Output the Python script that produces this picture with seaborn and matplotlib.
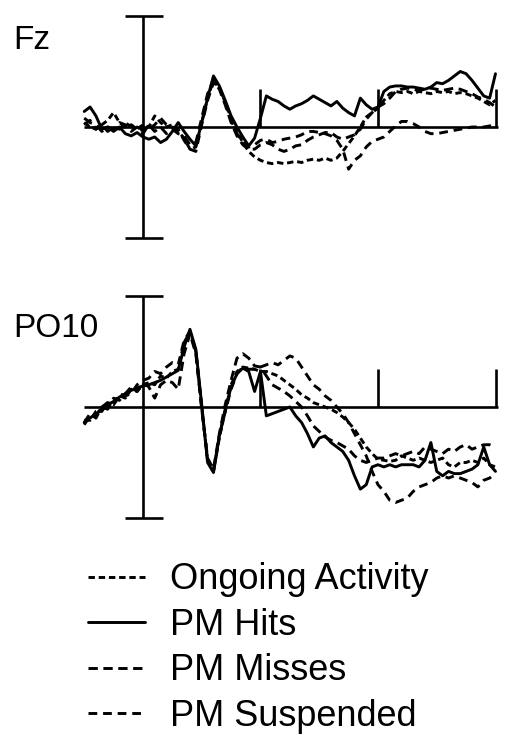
import matplotlib
matplotlib.use("Agg")
import matplotlib.pyplot as plt
import numpy as np
import pandas as pd
import seaborn as sns
from matplotlib.lines import Line2D

# ---------------- data ----------------
time_ms = [-200, -180, -160, -140, -120, -100, -80, -60, -40, -20,
           0, 20, 40, 60, 80, 100, 120, 140, 160, 180,
           200, 220, 240, 260, 280, 300, 320, 340, 360, 380,
           400, 420, 440, 460, 480, 500, 520, 540, 560, 580,
           600, 620, 640, 660, 680, 700, 720, 740, 760, 780,
           800, 820, 840, 860, 880, 900, 920, 940, 960, 980,
           1000, 1020, 1040, 1060, 1080, 1100, 1120, 1140, 1160, 1180, 1200]

conditions = ["Ongoing Activity", "PM Hits", "PM Misses", "PM Suspended"]
channels = ["Fz", "PO10"]
time_ticks = [400, 800, 1200]
amp_limit = 5.0

fz_ongoing = [0.2, 0.0, -0.1, 0.1, 0.3, 0.65, 0.2, 0.0, 0.1, -0.1,
              0.1, 0.0, 0.5, 0.2, 0.0, 0.1, -0.2, -0.5, -1.0, -0.9,
              0.2, 1.3, 2.1, 1.8, 1.1, 0.4, -0.2, -0.7, -1.1, -1.35,
              -1.5, -1.6, -1.65, -1.6, -1.65, -1.6, -1.55, -1.6, -1.5, -1.45,
              -1.5, -1.4, -1.5, -1.4, -1.1, -0.75, -0.4, 0.0, 0.45, 0.65,
              0.85, 1.2, 1.5, 1.6, 1.55, 1.6, 1.5, 1.6, 1.55, 1.5,
              1.6, 1.55, 1.6, 1.5, 1.55, 1.5, 1.4, 1.3, 1.15, 1.0, 1.2]
fz_hits = [0.7, 0.9, 0.5, -0.1, 0.0, -0.2, 0.0, -0.3, -0.4, -0.25,
           -0.45, -0.55, -0.45, -0.7, -0.55, -0.2, 0.2, -0.2, -0.55, -0.85,
           0.2, 1.3, 2.3, 1.85, 1.2, 0.5, 0.0, -0.45, -0.85, -0.5,
           0.4, 1.4, 1.25, 1.15, 0.95, 0.8, 0.95, 1.05, 1.2, 1.4,
           1.25, 1.1, 0.95, 1.15, 0.85, 0.65, 0.5, 1.3, 1.0, 0.8,
           0.9, 1.6, 1.8, 1.85, 1.85, 1.8, 1.8, 1.75, 1.7, 1.8,
           2.0, 1.95, 2.1, 2.3, 2.5, 2.4, 2.1, 1.75, 1.4, 1.3, 2.4]
fz_misses = [0.4, 0.2, 0.1, -0.2, 0.0, -0.1, 0.2, 0.1, -0.2, 0.0,
             -0.3, 0.1, -0.2, 0.0, -0.3, -0.1, -0.3, -0.4, -0.8, -0.7,
             0.4, 1.5, 2.1, 1.7, 1.0, 0.2, -0.4, -0.8, -1.0, -1.0,
             -0.8, -0.7, -0.8, -1.0, -1.1, -1.0, -0.85, -0.8, -0.6, -0.45,
             -0.35, -0.25, -0.25, -0.45, -0.55, -0.45, -0.35, -0.1, 0.35, 0.65,
             0.9, 1.05, 1.3, 1.6, 1.7, 1.75, 1.7, 1.65, 1.7, 1.75,
             1.7, 1.65, 1.7, 1.75, 1.7, 1.6, 1.5, 1.35, 1.25, 1.1, 0.9]
fz_suspended = [0.1, 0.3, -0.1, 0.1, -0.2, 0.0, -0.1, 0.2, 0.0, 0.1,
                -0.2, -0.1, 0.1, 0.4, 0.1, 0.0, -0.1, -0.6, -1.0, -1.1,
                0.1, 1.2, 2.0, 1.8, 1.1, 0.3, -0.3, -0.7, -0.9, -0.8,
                -0.6, -0.55, -0.7, -0.65, -0.55, -0.5, -0.45, -0.35, -0.2, -0.2,
                -0.25, -0.3, -0.4, -0.6, -1.0, -1.9, -1.5, -1.3, -0.9, -0.65,
                -0.55, -0.45, -0.2, 0.05, 0.25, 0.25, 0.15, 0.0, -0.2, -0.3,
                -0.3, -0.25, -0.2, -0.15, -0.1, -0.05, 0.0, 0.0, 0.0, 0.05, 0.05]

po10_ongoing = [-0.6, -0.6, -0.2, -0.2, 0.2, 0.1, 0.5, 0.4, 0.8, 0.7,
                1.0, 1.1, 1.0, 1.4, 1.3, 1.6, 1.7, 2.9, 3.4, 2.5,
                0.0, -2.4, -2.9, -1.4, -0.2, 1.0, 1.6, 1.8, 1.75, 1.7,
                1.6, 1.6, 1.5, 1.4, 1.2, 1.0, 0.8, 0.55, 0.4, 0.2,
                0.1, 0.0, -0.1, -0.25, -0.45, -0.7, -1.0, -1.4, -1.8, -2.1,
                -2.35, -2.4, -2.45, -2.4, -2.2, -2.3, -2.4, -2.3, -2.4, -2.5,
                -2.4, -2.3, -2.6, -2.7, -2.5, -2.5, -2.4, -2.5, -2.3, -2.6, -2.7]
po10_hits = [-0.7, -0.5, -0.3, -0.1, 0.1, 0.25, 0.45, 0.6, 0.75, 0.85,
             0.95, 1.0, 1.1, 1.2, 1.35, 1.5, 1.65, 2.7, 3.5, 2.6,
             0.1, -2.5, -2.95, -1.3, -0.1, 0.9, 1.5, 1.75, 1.6, 0.7,
             1.6, -0.4, -0.3, -0.2, -0.1, 0.0, -0.4, -0.7, -1.2, -1.8,
             -1.4, -1.3, -1.6, -1.8, -2.0, -2.4, -3.1, -3.7, -3.5, -2.7,
             -2.6, -2.7, -2.6, -2.7, -2.6, -2.6, -2.6, -2.7, -2.4, -1.6,
             -2.9, -3.1, -2.9, -3.0, -3.0, -2.9, -2.8, -2.6, -1.8, -2.6, -2.9]
po10_misses = [-0.8, -0.4, -0.4, 0.0, -0.1, 0.4, 0.3, 0.6, 0.9, 0.7,
               1.1, 0.9, 0.4, 1.0, 1.2, 1.1, 0.8, 2.4, 3.3, 2.4,
               -0.1, -2.3, -2.8, -1.2, 0.1, 1.2, 2.2, 2.4, 2.2, 1.85,
               1.8, 1.4, 1.0, 0.85, 0.7, 0.5, 0.25, 0.0, -0.4, -0.85,
               -1.1, -1.35, -1.5, -1.6, -1.75, -1.9, -2.2, -2.4, -2.5, -2.4,
               -2.3, -2.3, -2.2, -2.1, -2.2, -2.1, -2.0, -2.1, -1.8, -1.9,
               -2.0, -2.1, -1.9, -2.0, -1.8, -1.7, -1.9, -1.8, -1.7, -1.7, -1.8]
po10_suspended = [-0.7, -0.3, -0.5, 0.0, 0.2, 0.1, 0.6, 0.5, 0.6, 1.0,
                  1.2, 1.3, 1.6, 1.5, 1.8, 2.0, 1.9, 3.0, 3.4, 2.5,
                  0.0, -2.4, -2.9, -1.3, -0.2, 0.8, 1.5, 1.8, 1.7, 1.7,
                  1.8, 1.9, 2.0, 1.9, 2.1, 2.3, 2.2, 1.8, 1.4, 1.0,
                  0.8, 0.5, 0.3, 0.0, -0.3, -0.7, -1.2, -1.7, -2.2, -2.9,
                  -3.5, -3.8, -4.2, -4.3, -4.2, -4.1, -3.8, -3.6, -3.5, -3.4,
                  -3.2, -3.1, -3.2, -3.1, -3.2, -3.3, -3.4, -3.6, -3.3, -3.2, -3.0]

series = {
    "Fz": [fz_ongoing, fz_hits, fz_misses, fz_suspended],
    "PO10": [po10_ongoing, po10_hits, po10_misses, po10_suspended],
}

rows = []
for ch in channels:
    for cond, vals in zip(conditions, series[ch]):
        for t, v in zip(time_ms, vals):
            rows.append((ch, cond, t, v))
df = pd.DataFrame(rows, columns=["channel", "condition", "time", "amplitude"])

# ---------------- style ----------------
sns.set_style("white")
plt.rcParams["font.family"] = ["Liberation Sans", "DejaVu Sans"]
plt.rcParams["text.color"] = "black"

dash_styles = {
    "Ongoing Activity": (2.2, 1.3),
    "PM Hits": "",
    "PM Misses": (3.2, 1.9),
    "PM Suspended": (3.0, 2.0),
}
LW = 2.1
AX_LW = 1.9

W, H = 505, 735
fig = plt.figure(figsize=(W / 100, H / 100), dpi=100)

x_left, x_right = 84.2, 495.5
panel_pix = {"Fz": (16, 238), "PO10": (296, 518)}
label_base = {"Fz": 49, "PO10": 337}

for ch in channels:
    top, bot = panel_pix[ch]
    ax = fig.add_axes([x_left / W, (H - bot) / H, (x_right - x_left) / W, (bot - top) / H])
    sub = df[df["channel"] == ch]
    sns.lineplot(data=sub, x="time", y="amplitude", style="condition",
                 style_order=conditions, dashes=dash_styles, color="black",
                 linewidth=LW, estimator=None, sort=False, legend=False, ax=ax)
    for line in ax.get_lines():
        line.set_clip_on(False)
    kw = dict(color="black", lw=AX_LW, clip_on=False, solid_capstyle="butt", zorder=1)
    ax.plot([time_ms[0], time_ms[-1] + 8], [0, 0], **kw)
    ax.plot([0, 0], [-amp_limit, amp_limit], **kw)
    ax.plot([-60, 68], [amp_limit, amp_limit], **kw)
    ax.plot([-60, 68], [-amp_limit, -amp_limit], **kw)
    for tk in time_ticks:
        ax.plot([tk, tk], [0, 1.7], **kw)
    ax.set_xlim(time_ms[0], time_ms[-1])
    ax.set_ylim(-amp_limit, amp_limit)
    ax.set_axis_off()
    fig.text(13 / W, 1 - label_base[ch] / H, ch, fontsize=24, va="baseline",
             ha="left", color="black")

handles = [Line2D([0], [0], color="black", lw=LW,
                  linestyle="-" if dash_styles[c] == "" else (0, dash_styles[c]))
           for c in conditions]
leg = fig.legend(handles, conditions, loc="center left",
                 bbox_to_anchor=(88 / W, (H - 648) / H), frameon=False, fontsize=26,
                 handlelength=1.58, handletextpad=0.69, labelspacing=0.29,
                 borderpad=0, borderaxespad=0)
for txt in leg.get_texts():
    txt.set_color("black")

fig.savefig("out.png", dpi=100, facecolor="white")
